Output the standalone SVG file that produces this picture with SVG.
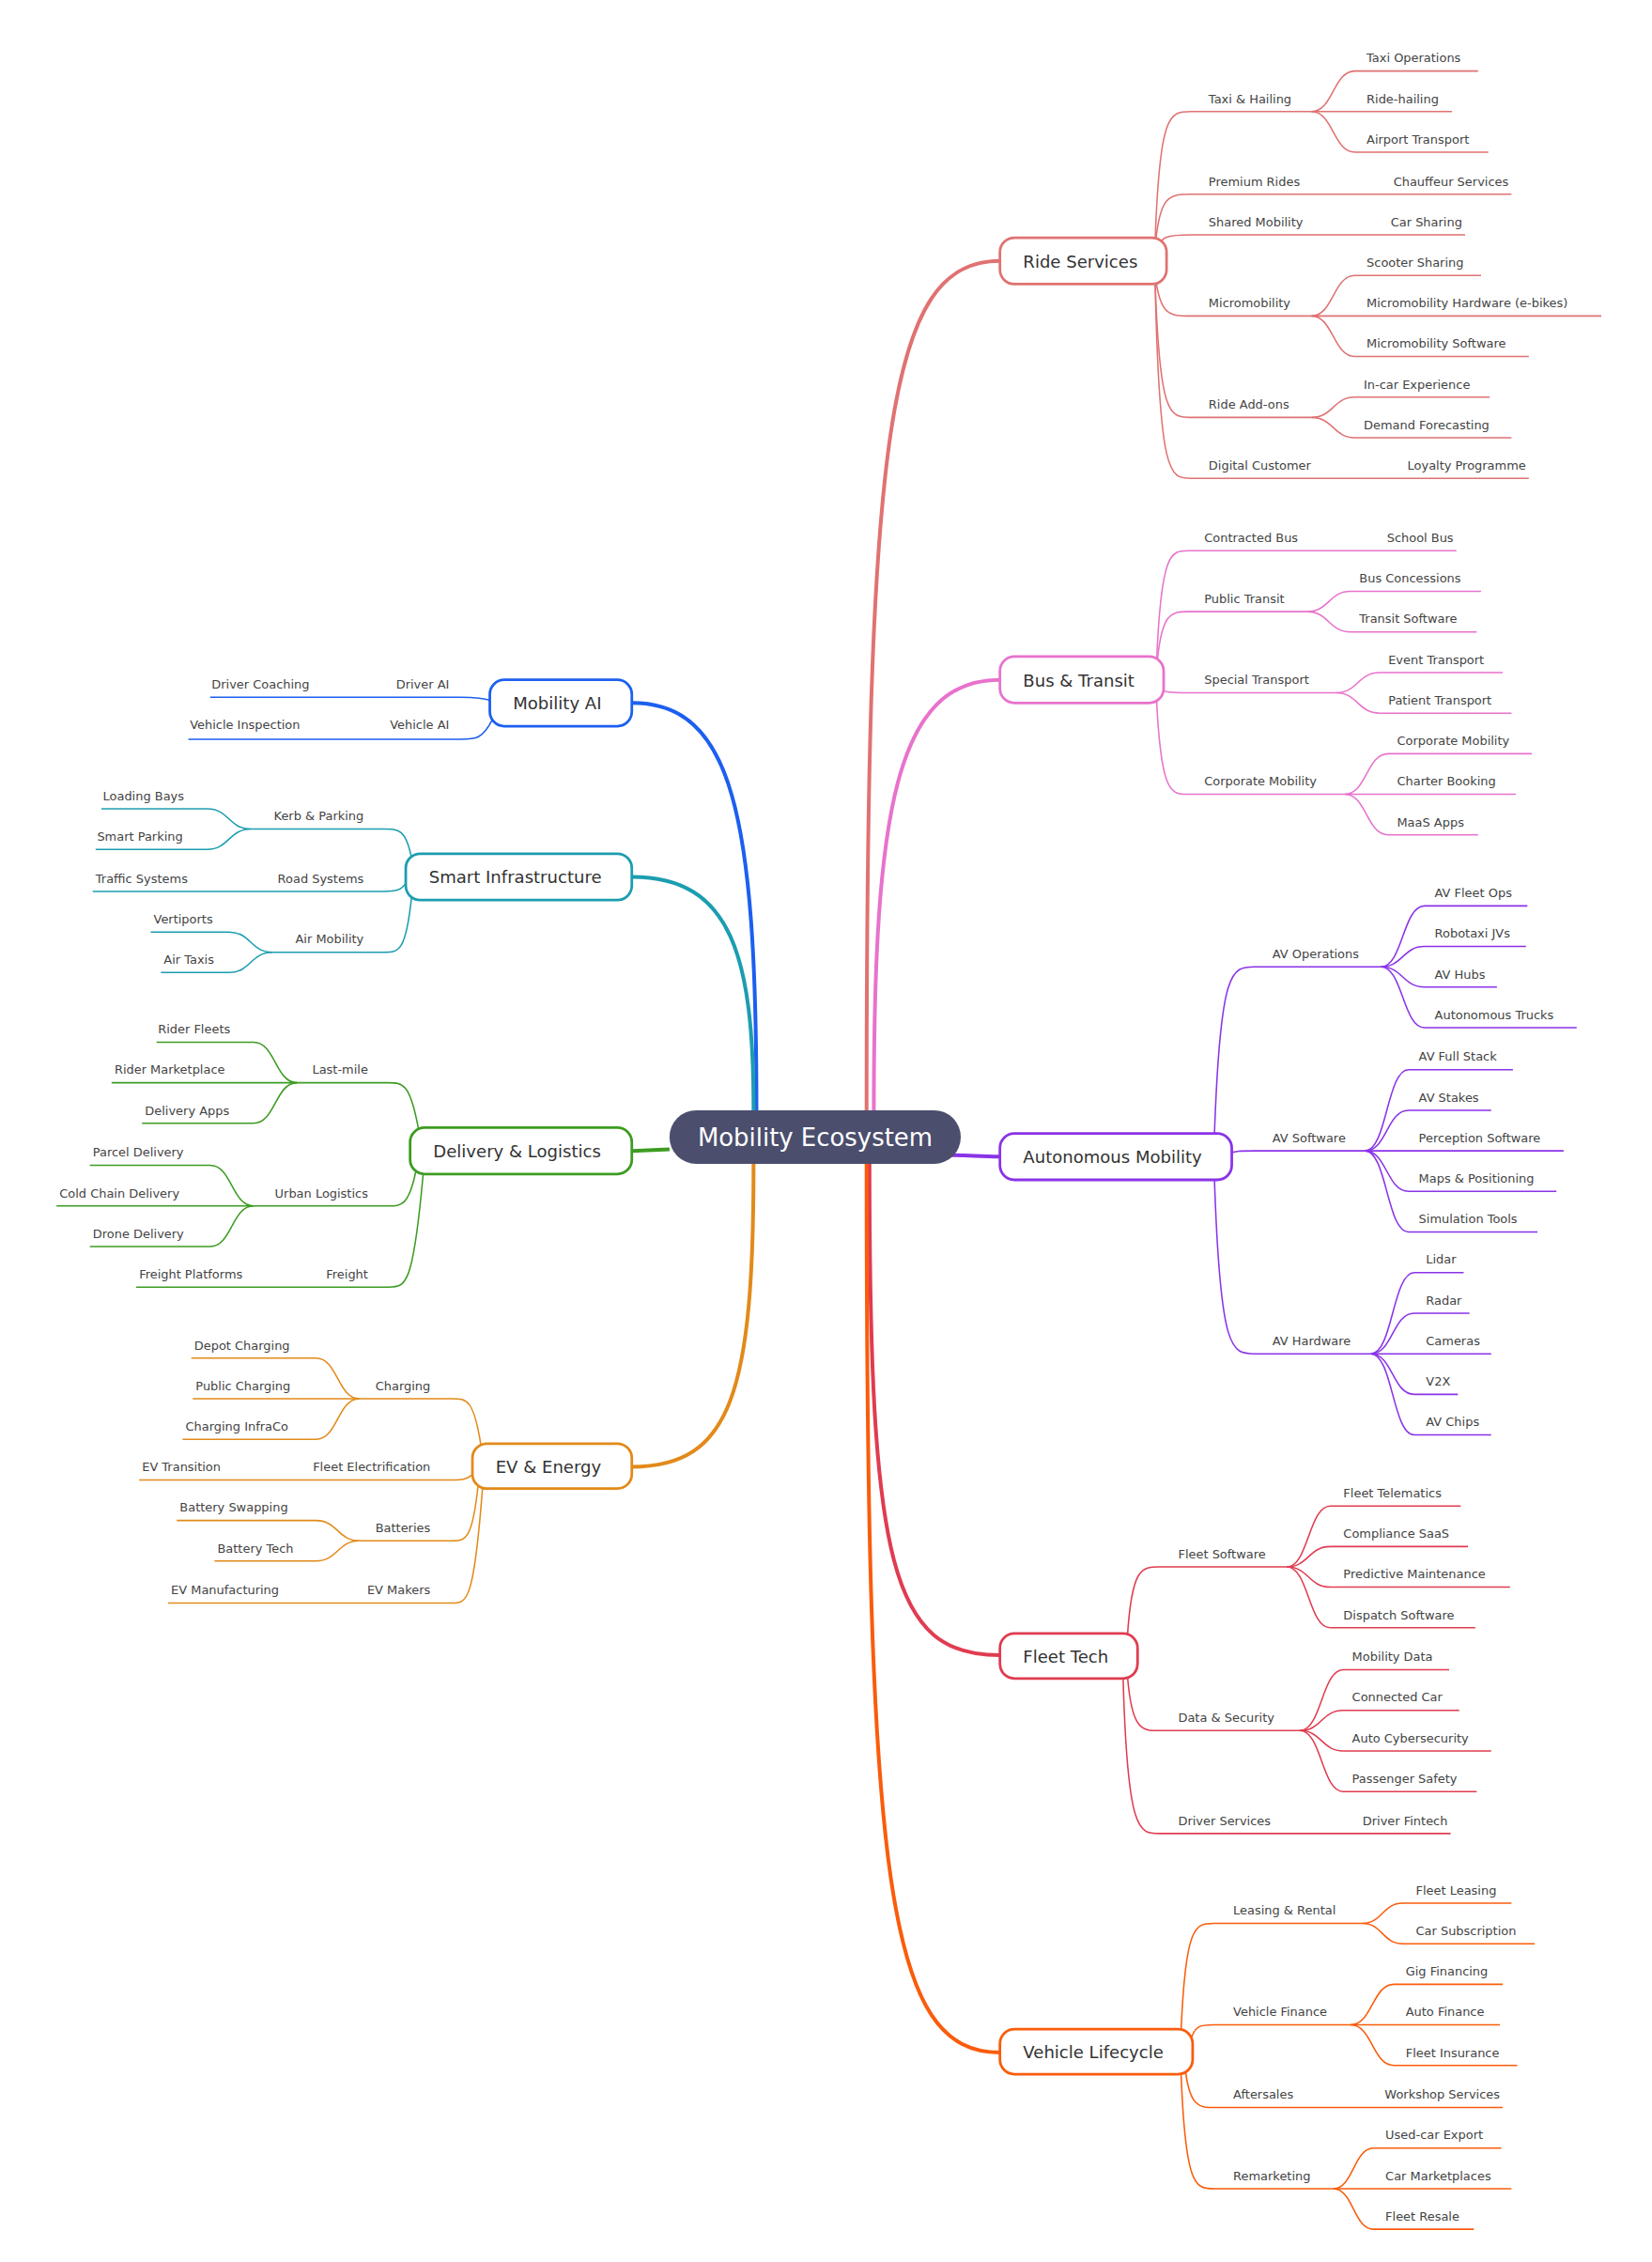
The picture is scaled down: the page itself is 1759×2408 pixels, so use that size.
<svg xmlns="http://www.w3.org/2000/svg" width="1759" height="2408" viewBox="0 0 1759 2408">
<style>
text{font-family:"DejaVu Sans","Liberation Sans",sans-serif;fill:#444;font-size:8.4px}
.b{font-size:11.7px;fill:#333}
.c{font-size:16.8px;fill:#fff}
.e{text-anchor:end}
.box{fill:#fff;stroke-width:1.8}
path{fill:none;stroke-width:1}
.m{stroke-width:2.6}
.ride{stroke:#e07272}.bus{stroke:#e872cc}.av{stroke:#8a33e8}.fl{stroke:#e03c50}.vl{stroke:#fa5c0c}
.ai{stroke:#1c5ff0}.si{stroke:#1c9db0}.dl{stroke:#3c9c22}.ev{stroke:#e28a1a}
</style>
<rect width="1759" height="2408" fill="#fff"/>
<g transform="scale(1.543)">
<g id="connectors">
<path class="m ride" d="M598,766 C598,300 612,180 690,180"/>
<path class="m bus" d="M603,766 C603,560 618,469 690,469"/>
<path class="m av" d="M655,797 C670,797 675,798 690,798"/>
<path class="m fl" d="M600,803 C600,1080 615,1142 690,1142"/>
<path class="m vl" d="M598,803 C598,1300 612,1416 690,1416"/>
<path class="m ai" d="M522,766 C522,560 505,485 436,485"/>
<path class="m si" d="M520,766 C520,660 505,605 436,605"/>
<path class="m dl" d="M462,793 L436,794"/>
<path class="m ev" d="M520,803 C520,960 505,1012 436,1012"/>
<g class="ride">
<path d="M797,170 C800,77 807,77 822,77 L905,77"/>
<path d="M905,77 C920,77 920,49 935,49 L1020,49"/>
<path d="M905,77 L1002,77"/>
<path d="M905,77 C920,77 920,105 935,105 L1027,105"/>
<path d="M797,172 C800,134 807,134 822,134 L1043,134"/>
<path d="M797,175 C800,162 807,162 822,162 L1011,162"/>
<path d="M797,188 C800,218 807,218 822,218 L905,218"/>
<path d="M905,218 C920,218 920,190 935,190 L1022,190"/>
<path d="M905,218 L1105,218"/>
<path d="M905,218 C920,218 920,246 935,246 L1055,246"/>
<path d="M797,190 C800,288 807,288 822,288 L905,288"/>
<path d="M905,288 C920,288 920,274 935,274 L1028,274"/>
<path d="M905,288 C920,288 920,302 935,302 L1043,302"/>
<path d="M797,191 C800,330 807,330 822,330 L1055,330"/>
</g>
<g class="bus">
<path d="M798,460 C801,380 808,380 820,380 L1005,380"/>
<path d="M798,463 C801,422 808,422 820,422 L902,422"/>
<path d="M902,422 C917,422 917,408 932,408 L1022,408"/>
<path d="M902,422 C917,422 917,436 932,436 L1019,436"/>
<path d="M800,474 C803,478 808,478 820,478 L922,478"/>
<path d="M922,478 C937,478 937,464 952,464 L1037,464"/>
<path d="M922,478 C937,478 937,492 952,492 L1043,492"/>
<path d="M798,480 C801,548 808,548 820,548 L928,548"/>
<path d="M928,548 C943,548 943,520 958,520 L1057,520"/>
<path d="M928,548 L1046,548"/>
<path d="M928,548 C943,548 943,576 958,576 L1020,576"/>
</g>
<g class="av">
<path d="M838,784 C842,667 850,667 866,667 L953,667"/>
<path d="M953,667 C968,667 968,625 983,625 L1054,625"/>
<path d="M953,667 C968,667 968,653 983,653 L1053,653"/>
<path d="M953,667 C968,667 968,681 983,681 L1033,681"/>
<path d="M953,667 C968,667 968,709 983,709 L1088,709"/>
<path d="M848,796 C852,794 856,794 866,794 L942,794"/>
<path d="M942,794 C957,794 957,738 972,738 L1044,738"/>
<path d="M942,794 C957,794 957,766 972,766 L1029,766"/>
<path d="M942,794 L1079,794"/>
<path d="M942,794 C957,794 957,822 972,822 L1074,822"/>
<path d="M942,794 C957,794 957,850 972,850 L1061,850"/>
<path d="M838,812 C842,934 850,934 866,934 L946,934"/>
<path d="M946,934 C961,934 961,878 976,878 L1010,878"/>
<path d="M946,934 C961,934 961,906 976,906 L1014,906"/>
<path d="M946,934 L1029,934"/>
<path d="M946,934 C961,934 961,962 976,962 L1006,962"/>
<path d="M946,934 C961,934 961,990 976,990 L1029,990"/>
</g>
<g class="fl">
<path d="M778,1129 C781,1081 788,1081 800,1081 L888,1081"/>
<path d="M888,1081 C903,1081 903,1039 918,1039 L1008,1039"/>
<path d="M888,1081 C903,1081 903,1067 918,1067 L1013,1067"/>
<path d="M888,1081 C903,1081 903,1095 918,1095 L1042,1095"/>
<path d="M888,1081 C903,1081 903,1123 918,1123 L1018,1123"/>
<path d="M778,1156 C781,1194 788,1194 800,1194 L897,1194"/>
<path d="M897,1194 C912,1194 912,1152 927,1152 L1000,1152"/>
<path d="M897,1194 C912,1194 912,1180 927,1180 L1007,1180"/>
<path d="M897,1194 C912,1194 912,1208 927,1208 L1029,1208"/>
<path d="M897,1194 C912,1194 912,1236 927,1236 L1019,1236"/>
<path d="M775,1157 C778,1265 786,1265 800,1265 L1001,1265"/>
</g>
<g class="vl">
<path d="M815,1402 C818,1327 825,1327 838,1327 L940,1327"/>
<path d="M940,1327 C954,1327 954,1313 968,1313 L1043,1313"/>
<path d="M940,1327 C954,1327 954,1341 968,1341 L1059,1341"/>
<path d="M821,1410 C824,1397 828,1397 838,1397 L932,1397"/>
<path d="M932,1397 C947,1397 947,1369 962,1369 L1037,1369"/>
<path d="M932,1397 L1035,1397"/>
<path d="M932,1397 C947,1397 947,1425 962,1425 L1047,1425"/>
<path d="M818,1428 C821,1454 828,1454 838,1454 L1037,1454"/>
<path d="M815,1430 C818,1510 825,1510 838,1510 L920,1510"/>
<path d="M920,1510 C934,1510 934,1482 948,1482 L1036,1482"/>
<path d="M920,1510 L1043,1510"/>
<path d="M920,1510 C934,1510 934,1538 948,1538 L1017,1538"/>
</g>
<g class="ai">
<path d="M338,483 C330,481 325,481 318,481 L145,481"/>
<path d="M340,496 C333,510 328,510 318,510 L130,510"/>
</g>
<g class="si">
<path d="M284,592 C280,572 275,572 265,572 L173,572"/>
<path d="M173,572 C158,572 158,558 143,558 L70,558"/>
<path d="M173,572 C158,572 158,586 143,586 L66,586"/>
<path d="M281,608 C277,615 272,615 265,615 L64,615"/>
<path d="M284,619 C280,657 275,657 265,657 L188,657"/>
<path d="M188,657 C173,657 173,643 158,643 L104,643"/>
<path d="M188,657 C173,657 173,671 158,671 L111,671"/>
</g>
<g class="dl">
<path d="M289,780 C283,747 278,747 268,747 L205,747"/>
<path d="M205,747 C190,747 190,719 175,719 L108,719"/>
<path d="M205,747 L77,747"/>
<path d="M205,747 C190,747 190,775 175,775 L98,775"/>
<path d="M287,808 C282,832 277,832 268,832 L175,832"/>
<path d="M175,832 C160,832 160,804 145,804 L62,804"/>
<path d="M175,832 L39,832"/>
<path d="M175,832 C160,832 160,860 145,860 L62,860"/>
<path d="M292,810 C285,888 280,888 268,888 L94,888"/>
</g>
<g class="ev">
<path d="M332,998 C327,965 322,965 312,965 L248,965"/>
<path d="M248,965 C233,965 233,937 218,937 L132,937"/>
<path d="M248,965 L133,965"/>
<path d="M248,965 C233,965 233,993 218,993 L126,993"/>
<path d="M327,1016 C323,1021 318,1021 312,1021 L96,1021"/>
<path d="M330,1024 C326,1063 321,1063 312,1063 L248,1063"/>
<path d="M248,1063 C233,1063 233,1049 218,1049 L122,1049"/>
<path d="M248,1063 C233,1063 233,1077 218,1077 L148,1077"/>
<path d="M333,1026 C327,1106 322,1106 312,1106 L116,1106"/>
</g>
</g>
<g id="center"><rect x="462" y="766" width="201" height="37" rx="18.5" fill="#4b4e6d"/><text class="c" x="562.5" y="790.5" text-anchor="middle">Mobility Ecosystem</text></g>
<g id="ride-services">
<rect class="box ride" x="690" y="164" width="115" height="32" rx="10"/><text class="b" x="706" y="184.5">Ride Services</text>
<text x="834" y="71">Taxi &amp; Hailing</text><text x="943" y="43">Taxi Operations</text><text x="943" y="71">Ride-hailing</text><text x="943" y="99">Airport Transport</text>
<text x="834" y="128">Premium Rides</text><text class="e" x="1041" y="128">Chauffeur Services</text>
<text x="834" y="156">Shared Mobility</text><text class="e" x="1009" y="156">Car Sharing</text>
<text x="834" y="212">Micromobility</text><text x="943" y="184">Scooter Sharing</text><text x="943" y="212">Micromobility Hardware (e-bikes)</text><text x="943" y="240">Micromobility Software</text>
<text x="834" y="282">Ride Add-ons</text><text x="941" y="268">In-car Experience</text><text x="941" y="296">Demand Forecasting</text>
<text x="834" y="324">Digital Customer</text><text class="e" x="1053" y="324">Loyalty Programme</text>
</g>
<g id="bus-transit">
<rect class="box bus" x="690" y="453" width="113" height="32" rx="10"/><text class="b" x="706" y="473.5">Bus &amp; Transit</text>
<text x="831" y="374">Contracted Bus</text><text class="e" x="1003" y="374">School Bus</text>
<text x="831" y="416">Public Transit</text><text x="938" y="402">Bus Concessions</text><text x="938" y="430">Transit Software</text>
<text x="831" y="472">Special Transport</text><text x="958" y="458">Event Transport</text><text x="958" y="486">Patient Transport</text>
<text x="831" y="542">Corporate Mobility</text><text x="964" y="514">Corporate Mobility</text><text x="964" y="542">Charter Booking</text><text x="964" y="570">MaaS Apps</text>
</g>
<g id="autonomous-mobility">
<rect class="box av" x="690" y="782" width="160" height="32" rx="10"/><text class="b" x="706" y="802.5">Autonomous Mobility</text>
<text x="878" y="661">AV Operations</text><text x="990" y="619">AV Fleet Ops</text><text x="990" y="647">Robotaxi JVs</text><text x="990" y="675">AV Hubs</text><text x="990" y="703">Autonomous Trucks</text>
<text x="878" y="788">AV Software</text><text x="979" y="732">AV Full Stack</text><text x="979" y="760">AV Stakes</text><text x="979" y="788">Perception Software</text><text x="979" y="816">Maps &amp; Positioning</text><text x="979" y="844">Simulation Tools</text>
<text x="878" y="928">AV Hardware</text><text x="984" y="872">Lidar</text><text x="984" y="900">Radar</text><text x="984" y="928">Cameras</text><text x="984" y="956">V2X</text><text x="984" y="984">AV Chips</text>
</g>
<g id="fleet-tech">
<rect class="box fl" x="690" y="1127" width="95" height="31" rx="10"/><text class="b" x="706" y="1147">Fleet Tech</text>
<text x="813" y="1075">Fleet Software</text><text x="927" y="1033">Fleet Telematics</text><text x="927" y="1061">Compliance SaaS</text><text x="927" y="1089">Predictive Maintenance</text><text x="927" y="1117">Dispatch Software</text>
<text x="813" y="1188">Data &amp; Security</text><text x="933" y="1146">Mobility Data</text><text x="933" y="1174">Connected Car</text><text x="933" y="1202">Auto Cybersecurity</text><text x="933" y="1230">Passenger Safety</text>
<text x="813" y="1259">Driver Services</text><text class="e" x="999" y="1259">Driver Fintech</text>
</g>
<g id="vehicle-lifecycle">
<rect class="box vl" x="690" y="1400" width="133" height="31" rx="10"/><text class="b" x="706" y="1420">Vehicle Lifecycle</text>
<text x="851" y="1321">Leasing &amp; Rental</text><text x="977" y="1307">Fleet Leasing</text><text x="977" y="1335">Car Subscription</text>
<text x="851" y="1391">Vehicle Finance</text><text x="970" y="1363">Gig Financing</text><text x="970" y="1391">Auto Finance</text><text x="970" y="1419">Fleet Insurance</text>
<text x="851" y="1448">Aftersales</text><text class="e" x="1035" y="1448">Workshop Services</text>
<text x="851" y="1504">Remarketing</text><text x="956" y="1476">Used-car Export</text><text x="956" y="1504">Car Marketplaces</text><text x="956" y="1532">Fleet Resale</text>
</g>
<g id="mobility-ai">
<rect class="box ai" x="338" y="469" width="98" height="32" rx="10"/><text class="b" x="354" y="489.5">Mobility AI</text>
<text class="e" x="310" y="475">Driver AI</text><text x="146" y="475">Driver Coaching</text>
<text class="e" x="310" y="503">Vehicle AI</text><text x="131" y="503">Vehicle Inspection</text>
</g>
<g id="smart-infrastructure">
<rect class="box si" x="280" y="589" width="156" height="32" rx="10"/><text class="b" x="296" y="609.5">Smart Infrastructure</text>
<text class="e" x="251" y="566">Kerb &amp; Parking</text><text x="71" y="552">Loading Bays</text><text x="67" y="580">Smart Parking</text>
<text class="e" x="251" y="609">Road Systems</text><text x="66" y="609">Traffic Systems</text>
<text class="e" x="251" y="651">Air Mobility</text><text x="106" y="637">Vertiports</text><text x="113" y="665">Air Taxis</text>
</g>
<g id="delivery-logistics">
<rect class="box dl" x="283" y="778" width="153" height="32" rx="10"/><text class="b" x="299" y="798.5">Delivery &amp; Logistics</text>
<text class="e" x="254" y="741">Last-mile</text><text x="109" y="713">Rider Fleets</text><text x="79" y="741">Rider Marketplace</text><text x="100" y="769">Delivery Apps</text>
<text class="e" x="254" y="826">Urban Logistics</text><text x="64" y="798">Parcel Delivery</text><text x="41" y="826">Cold Chain Delivery</text><text x="64" y="854">Drone Delivery</text>
<text class="e" x="254" y="882">Freight</text><text x="96" y="882">Freight Platforms</text>
</g>
<g id="ev-energy">
<rect class="box ev" x="326" y="996" width="110" height="31" rx="10"/><text class="b" x="342" y="1016">EV &amp; Energy</text>
<text class="e" x="297" y="959">Charging</text><text x="134" y="931">Depot Charging</text><text x="135" y="959">Public Charging</text><text x="128" y="987">Charging InfraCo</text>
<text class="e" x="297" y="1015">Fleet Electrification</text><text x="98" y="1015">EV Transition</text>
<text class="e" x="297" y="1057">Batteries</text><text x="124" y="1043">Battery Swapping</text><text x="150" y="1071">Battery Tech</text>
<text class="e" x="297" y="1100">EV Makers</text><text x="118" y="1100">EV Manufacturing</text>
</g>
</g>
</svg>
